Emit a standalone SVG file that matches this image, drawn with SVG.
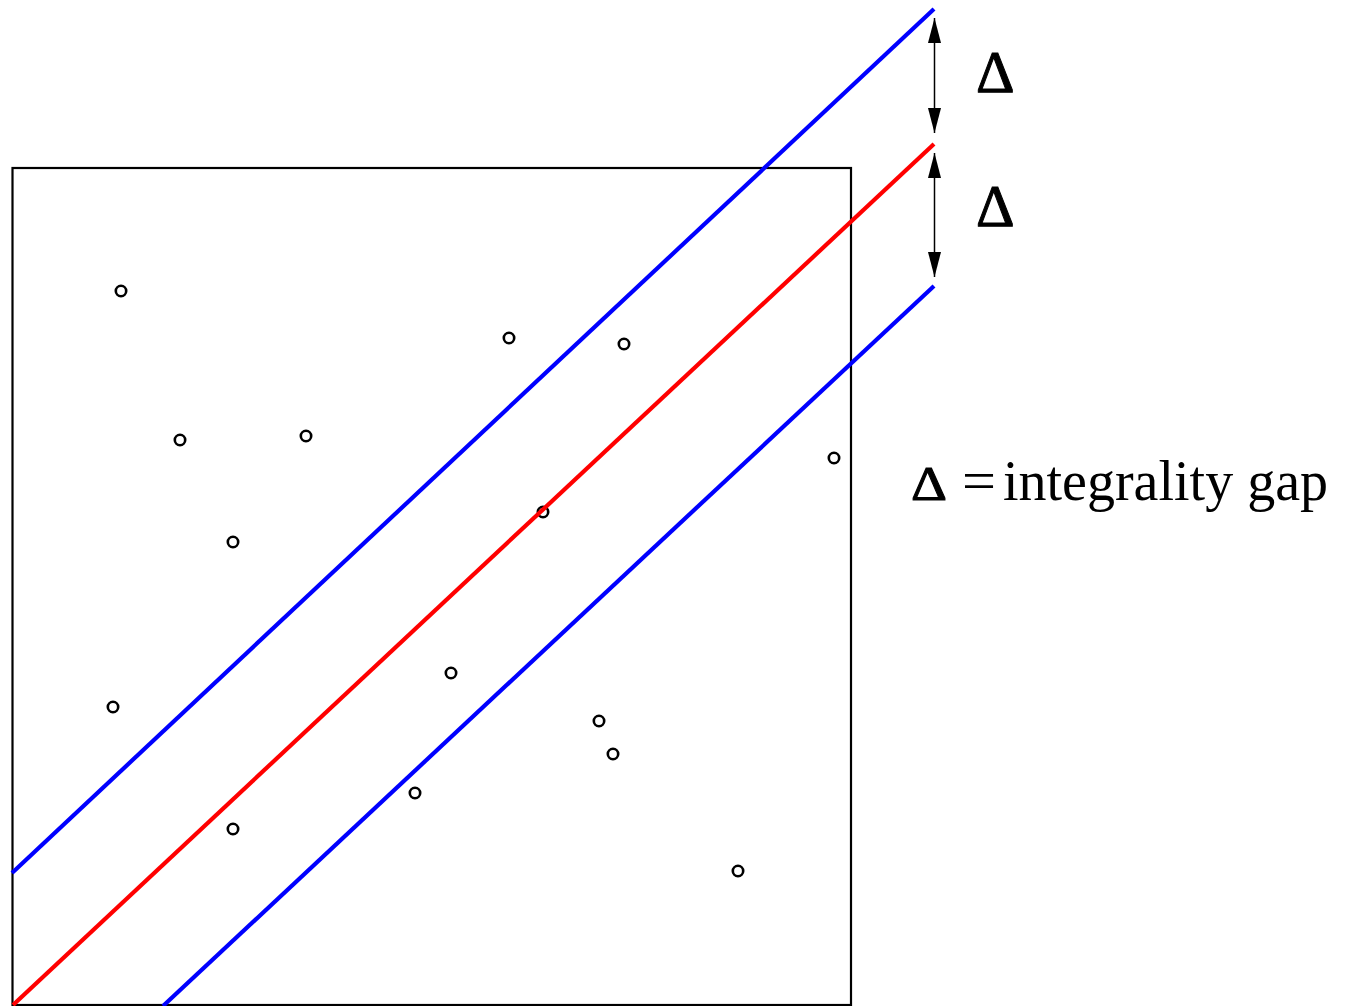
<svg xmlns="http://www.w3.org/2000/svg" width="1348" height="1006" viewBox="0 0 1348 1006">
<style>
.pt{fill:none;stroke:#000;stroke-width:2.6}
.ln{fill:none;stroke-width:4.2}
.lbl{font-family:"Liberation Serif",serif;fill:#000}
.dl{stroke:#000;stroke-width:1}
</style>
<defs>
<marker id="ah" viewBox="0 0 25 13" refX="25" refY="6.5" markerWidth="25" markerHeight="13" markerUnits="userSpaceOnUse" orient="auto-start-reverse">
<path d="M0,0 L25,6.5 L0,13 Z" fill="#000"/>
</marker>
</defs>
<rect width="1348" height="1006" fill="#fff"/>
<g id="box"><rect x="12.5" y="168" width="838.5" height="837" fill="none" stroke="#000" stroke-width="2.2"/></g>
<g id="points">
<circle class="pt" cx="121" cy="291" r="5.2"/>
<circle class="pt" cx="180" cy="440" r="5.2"/>
<circle class="pt" cx="306" cy="436" r="5.2"/>
<circle class="pt" cx="233" cy="542" r="5.2"/>
<circle class="pt" cx="509" cy="338" r="5.2"/>
<circle class="pt" cx="624" cy="344" r="5.2"/>
<circle class="pt" cx="834" cy="458" r="5.2"/>
<circle class="pt" cx="543" cy="512" r="5.2"/>
<circle class="pt" cx="451" cy="673" r="5.2"/>
<circle class="pt" cx="113" cy="707" r="5.2"/>
<circle class="pt" cx="599" cy="721" r="5.2"/>
<circle class="pt" cx="613" cy="754" r="5.2"/>
<circle class="pt" cx="415" cy="793" r="5.2"/>
<circle class="pt" cx="233" cy="829" r="5.2"/>
<circle class="pt" cx="738" cy="871" r="5.2"/>
</g>
<g id="lines">
<line id="upper" class="ln" stroke="#0000ff" x1="12" y1="873" x2="934" y2="9"/>
<line id="middle" class="ln" stroke="#ff0000" x1="13" y1="1005" x2="934" y2="144"/>
<line id="lower" class="ln" stroke="#0000ff" x1="163" y1="1006" x2="934" y2="286"/>
</g>
<g id="connectors">
<line x1="934.5" y1="18" x2="934.5" y2="133" stroke="#000" stroke-width="1.5" marker-start="url(#ah)" marker-end="url(#ah)"/>
<line x1="934.5" y1="153" x2="934.5" y2="277" stroke="#000" stroke-width="1.5" marker-start="url(#ah)" marker-end="url(#ah)"/>
</g>
<g id="labels">
<text class="lbl dl" x="976" y="92" font-size="60">Δ</text>
<text class="lbl dl" x="976" y="226" font-size="60">Δ</text>
<text class="lbl dl" x="911" y="500" font-size="48" textLength="36" lengthAdjust="spacingAndGlyphs">Δ</text>
<text class="lbl" x="962" y="500" font-size="56" textLength="34" lengthAdjust="spacingAndGlyphs">=</text>
<text class="lbl" x="1003" y="500" font-size="56">integrality gap</text>
</g>
</svg>
